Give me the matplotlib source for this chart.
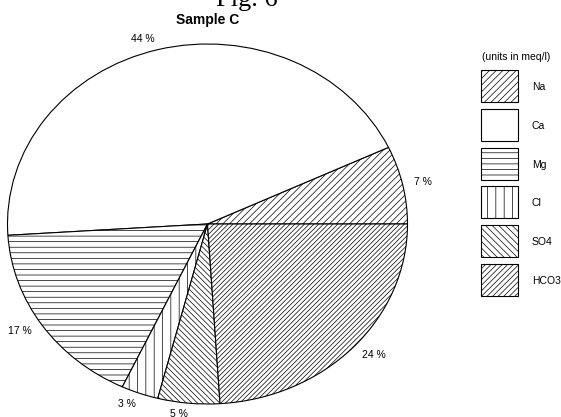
import matplotlib.pyplot as plt
from matplotlib.patches import Rectangle

plt.rcParams['font.family'] = ['Liberation Sans', 'DejaVu Sans']
plt.rcParams['hatch.color'] = 'black'
plt.rcParams['hatch.linewidth'] = 0.5

ions = ['Na', 'Ca', 'Mg', 'Cl', 'SO4', 'HCO3']
shares = [7, 44, 17, 3, 5, 24]  # percent of total meq/l
pie_hatches = ['/' * 5, '', '---', '||', '\\' * 6, '/' * 7]
key_hatches = ['/' * 5, '', '---', '||', '\\' * 5, '/' * 6]

W, H = 561, 417
fig = plt.figure(figsize=(W / 100, H / 100), dpi=100)

# pie is stretched into an ellipse: 400 px wide, 360 px tall, centre at (207.5, 224)
pad = 1.05
cx, cy, rx, ry = 207.5, 224, 200, 180
ax = fig.add_axes([(cx - rx * pad) / W, (H - cy - ry * pad) / H,
                   2 * rx * pad / W, 2 * ry * pad / H])
wedges, texts = ax.pie(shares, labels=[f'{s} %' for s in shares],
                       colors=['white'] * len(shares), hatch=pie_hatches,
                       startangle=0, counterclock=True, labeldistance=1.06,
                       wedgeprops=dict(edgecolor='black', linewidth=0.8),
                       textprops=dict(fontsize=7.5))
ax.set_xlim(-pad, pad)
ax.set_ylim(-pad, pad)
ax.set_aspect('auto')
ax.axis('off')

fig.text(cx / W, 1 - 20 / H, 'Sample C', ha='center', va='center',
         fontsize=10, fontweight='bold')
fig.text(247 / W, 1 - 6 / H, 'Fig. 6', ha='center', va='baseline',
         fontsize=19, family='Liberation Serif')

# key on the right, drawn in pixel coordinates
kx = fig.add_axes([0, 0, 1, 1])
kx.set_xlim(0, W)
kx.set_ylim(H, 0)
kx.axis('off')
kx.text(482, 57, '(units in meq/l)', fontsize=7.5, va='center')
for i, (ion, h) in enumerate(zip(ions, key_hatches)):
    top = 70 + i * 38.8
    kx.add_patch(Rectangle((481, top), 37, 32, facecolor='white',
                           edgecolor='black', linewidth=0.8, hatch=h))
    kx.text(532, top + 17, ion, fontsize=7.5, va='center')

fig.savefig('out.png', dpi=100)
